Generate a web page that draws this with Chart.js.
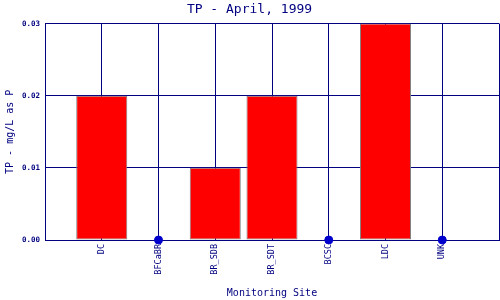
<!DOCTYPE html>
<html>
<head>
<meta charset="utf-8">
<script src="https://cdn.jsdelivr.net/npm/chart.js@4/dist/chart.umd.min.js"></script>
<style>
html,body{margin:0;padding:0;background:#fff;}
#wrap{width:500px;height:300px;}
</style>
</head>
<body>
<div id="wrap"><canvas id="c" width="500" height="300"></canvas></div>
<script>
const sites = ['DC','BFCaBR','BR_SDB','BR_SDT','BCSC','LDC','UNK'];
const tpValues = [0.02, 0, 0.01, 0.02, 0, 0.03, 0];
const yTicks = [0, 0.01, 0.02, 0.03];

const NAVY = '#000080';
const FONT = 'DejaVu Sans Mono';
const labels = [''].concat(sites, ['']);
const barData = [null].concat(tpValues.map(v => v > 0 ? v : null), [null]);
const dotData = [null].concat(tpValues.map(v => v === 0 ? 0 : null), [null]);

new Chart(document.getElementById('c'), {
  data: {
    labels: labels,
    datasets: [
      {
        type: 'bar',
        data: barData,
        backgroundColor: '#ff0000',
        borderColor: '#808080',
        borderWidth: 1,
        borderSkipped: false,
        barPercentage: 0.9,
        categoryPercentage: 1.0,
        order: 2
      },
      {
        type: 'line',
        data: dotData,
        showLine: false,
        pointRadius: 4,
        pointHoverRadius: 4,
        pointBackgroundColor: '#0000cc',
        pointBorderColor: '#0000cc',
        clip: false,
        order: 1
      }
    ]
  },
  options: {
    responsive: false,
    animation: false,
    events: [],
    layout: { autoPadding: false, padding: { left: 0, top: 0, bottom: 0, right: 1 } },
    plugins: {
      legend: { display: false },
      tooltip: { enabled: false },
      title: {
        display: true,
        text: 'TP - April, 1999',
        color: NAVY,
        font: { family: FONT, size: 13, weight: 'normal' },
        padding: { top: 2, bottom: 6 }
      }
    },
    scales: {
      x: {
        type: 'category',
        offset: false,
        grid: { color: NAVY, lineWidth: 1, drawTicks: false, offset: false },
        border: { color: NAVY, width: 1 },
        ticks: {
          color: NAVY,
          font: { family: FONT, size: 8.5 },
          minRotation: 90,
          maxRotation: 90,
          autoSkip: false,
          padding: 4
        },
        title: {
          display: true,
          text: 'Monitoring Site',
          color: NAVY,
          font: { family: FONT, size: 10 },
          padding: { top: 0, bottom: 1 }
        },
        afterFit: s => { s.height = 60; s.paddingLeft = 0; s.paddingRight = 0; }
      },
      y: {
        min: 0,
        max: 0.03,
        grid: { color: NAVY, lineWidth: 1, drawTicks: false },
        border: { color: NAVY, width: 1 },
        afterBuildTicks: s => { s.ticks = yTicks.map(v => ({ value: v })); },
        ticks: {
          color: NAVY,
          font: { family: FONT, size: 7.5, weight: 'bold' },
          padding: 5,
          callback: v => Number(v).toFixed(2)
        },
        title: {
          display: true,
          text: 'TP - mg/L as P',
          color: NAVY,
          font: { family: FONT, size: 10 },
          padding: { top: 4, bottom: 0 }
        },
        afterFit: s => { s.width = 45; s.paddingTop = 0; s.paddingBottom = 0; }
      }
    }
  }
});
</script>
</body>
</html>
